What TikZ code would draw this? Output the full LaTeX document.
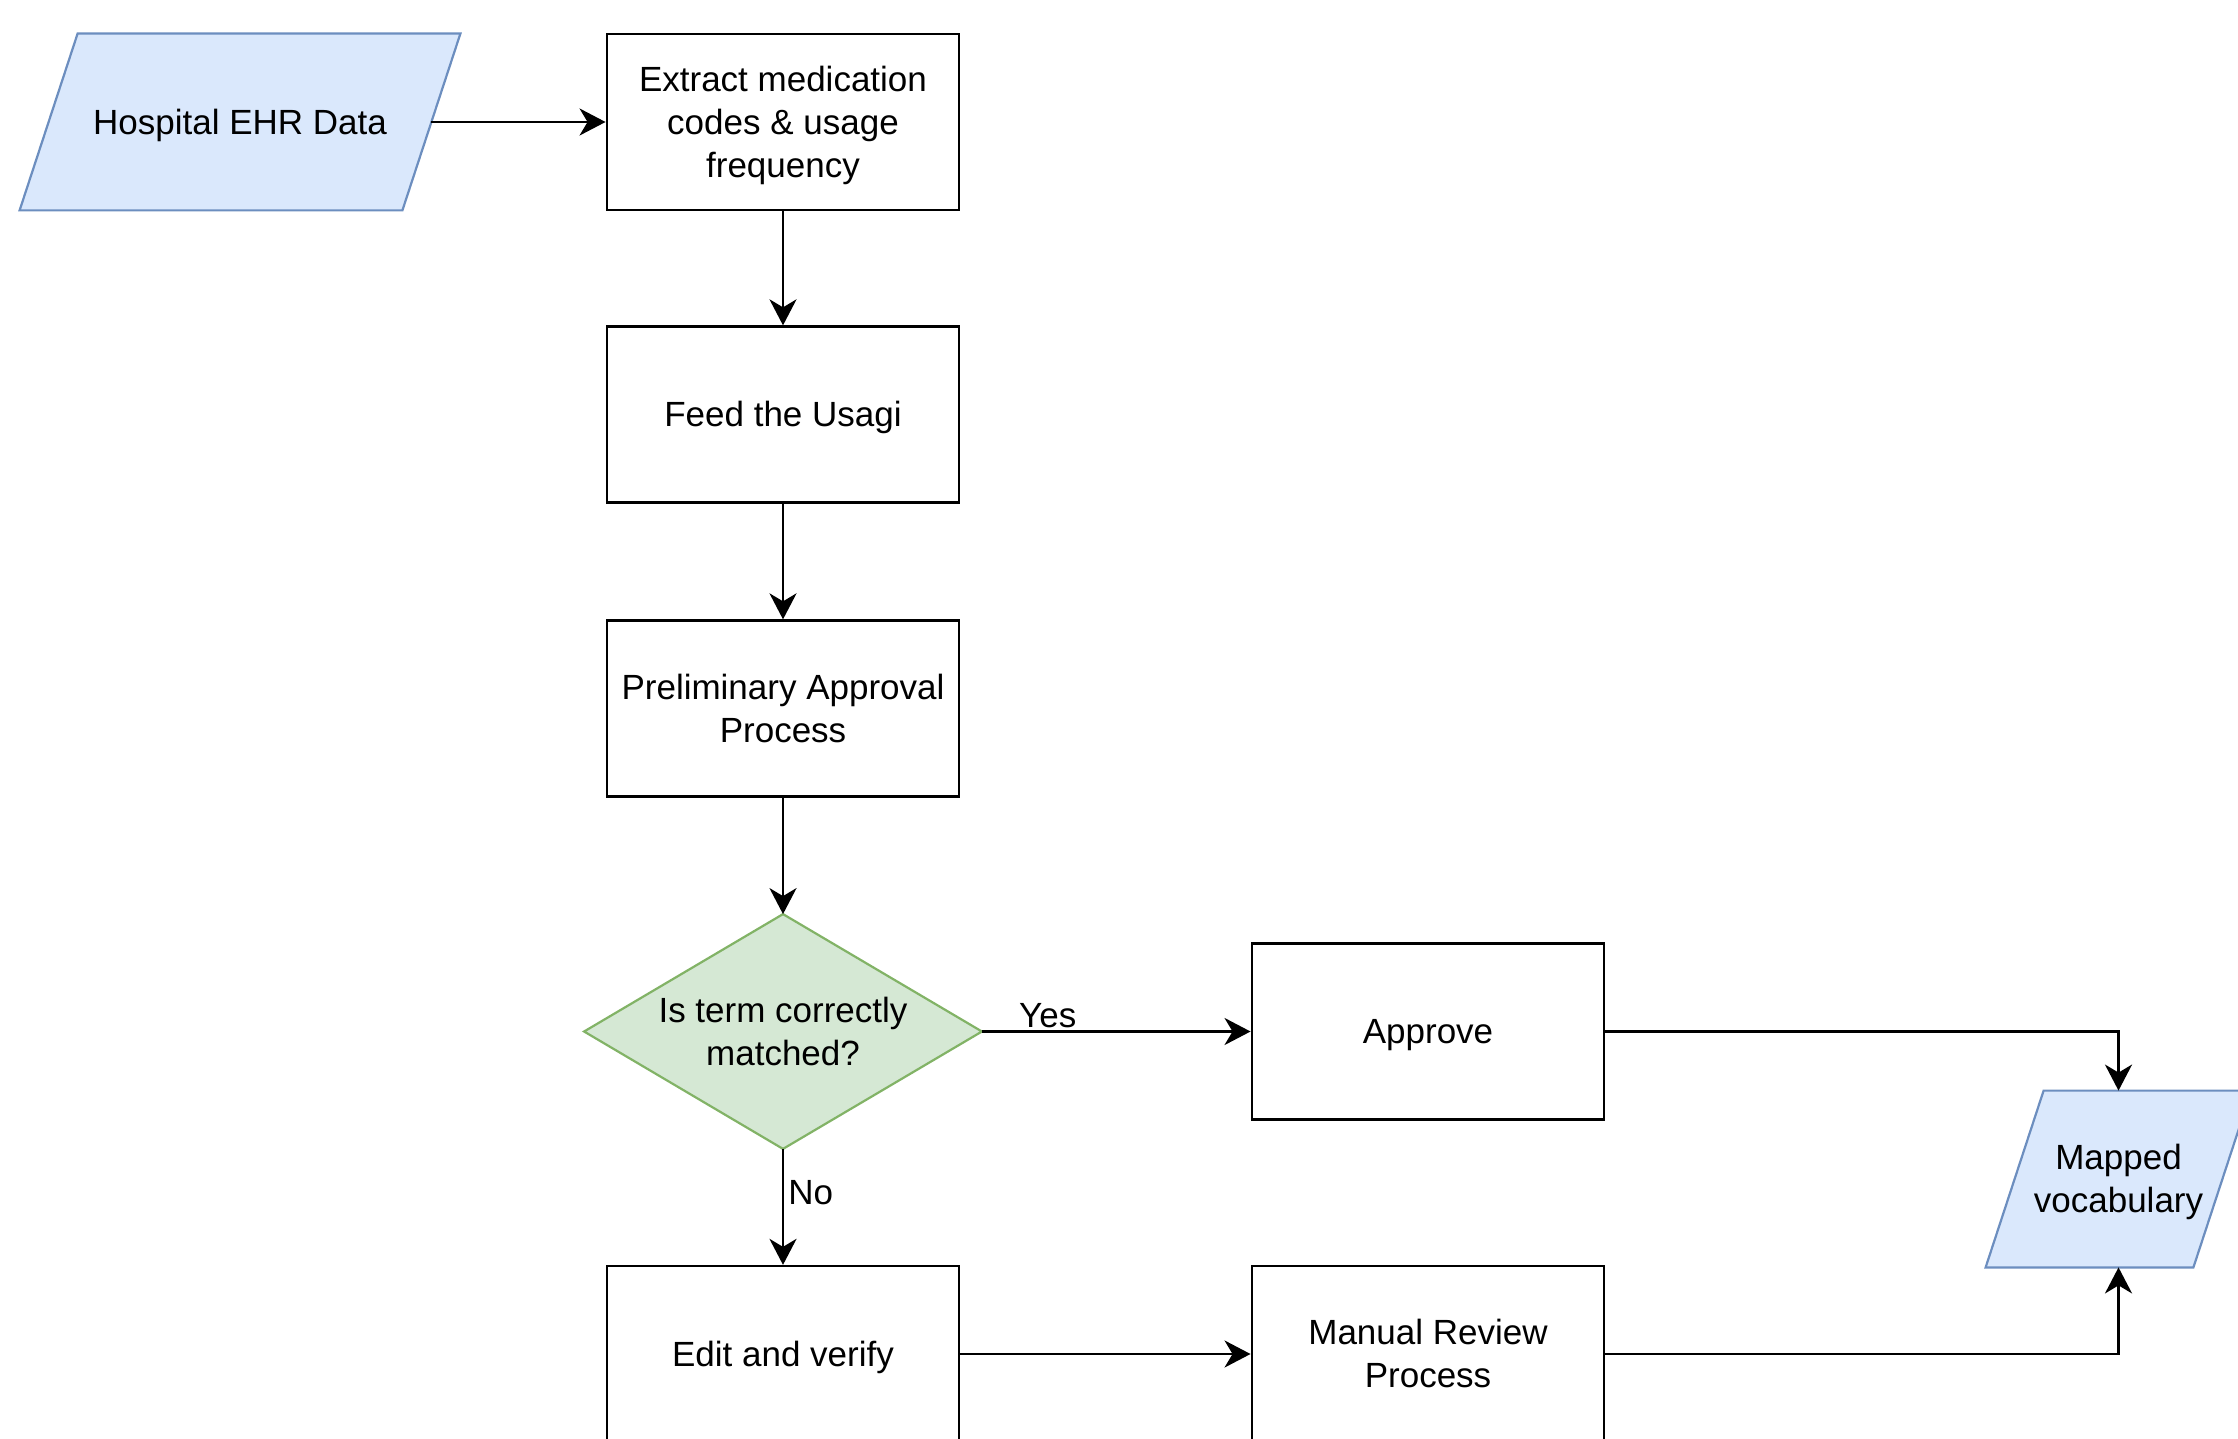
\documentclass[tikz,border=0pt]{standalone}
\usepackage{fontspec}
\setmainfont{Liberation Sans}
\usetikzlibrary{arrows.meta,calc,backgrounds}
\definecolor{ioFill}{HTML}{DAE8FC}
\definecolor{ioDraw}{HTML}{6C8EBF}
\definecolor{decFill}{HTML}{D5E8D4}
\definecolor{decDraw}{HTML}{82B366}
\newcommand\celltext[1]{\raisebox{0pt}[\dimexpr\height+3.6pt\relax][\depth]{\raisebox{-1.6pt}{\begin{tabular}{@{}c@{}}#1\end{tabular}}}}
\begin{document}
\begin{tikzpicture}[x=0.5pt,y=-0.5pt,
  txt/.style={inner sep=0pt,align=center,text=black,font=\fontsize{17.5}{21.5}\selectfont},
  box/.style={txt,draw=black,line width=1.15pt,minimum width=176.3pt,minimum height=88pt},
  plain/.style={txt},
  iostyle/.style={fill=ioFill,draw=ioDraw,line width=1.1pt,line join=miter},
  decstyle/.style={fill=decFill,draw=decDraw,line width=1.1pt},
  flow/.style={-{Stealth[length=13pt,width=13.5pt,inset=4pt]},line width=1.45pt,draw=black},
  lbl/.style={font=\fontsize{17.5}{21.5}\selectfont,text=black}
]
\useasboundingbox (0,0) rectangle (2238,1439);

\node[plain,minimum width=191pt,minimum height=88pt] (ehr) at (240,122) {\celltext{Hospital EHR Data}};
\node[box] (extract) at (783,122) {\celltext{Extract medication\\codes \& usage\\frequency}};
\node[box] (feed) at (783,414.5) {\celltext{Feed the Usagi}};
\node[box] (prelim) at (783,708.5) {\celltext{Preliminary Approval\\Process}};
\node[plain,minimum width=198.5pt,minimum height=117pt] (dec) at (783,1031.5) {\celltext{Is term correctly\\matched?}};
\node[box] (approve) at (1428,1031.5) {\celltext{Approve}};
\node[box] (edit) at (783,1354) {\celltext{Edit and verify}};
\node[box] (manual) at (1428,1354) {\celltext{Manual Review\\Process}};
\node[plain,minimum width=103.5pt,minimum height=88pt] (mapped) at (2118.5,1179) {\celltext{Mapped\\vocabulary}};

\begin{scope}[on background layer]
  \draw[iostyle] ($(ehr.north west)+(29,0)$) -- ($(ehr.north east)+(29,0)$) -- ($(ehr.south east)+(-29,0)$) -- ($(ehr.south west)+(-29,0)$) -- cycle;
  \draw[iostyle] ($(mapped.north west)+(29,0)$) -- ($(mapped.north east)+(29,0)$) -- ($(mapped.south east)+(-29,0)$) -- ($(mapped.south west)+(-29,0)$) -- cycle;
  \draw[decstyle] (dec.north) -- (dec.east) -- (dec.south) -- (dec.west) -- cycle;
\end{scope}

\draw[flow] (ehr.east) -- (extract.west);
\draw[flow] (extract.south) -- (feed.north);
\draw[flow] (feed.south) -- (prelim.north);
\draw[flow] (prelim.south) -- (dec.north);
\draw[flow] (dec.east) -- node[lbl,pos=0.245,anchor=south,inner sep=1pt] {Yes} (approve.west);
\draw[flow] (dec.south) -- node[lbl,pos=0.38,anchor=west,inner sep=2pt] {No} (edit.north);
\draw[flow] (edit.east) -- (manual.west);
\draw[flow] (approve.east) -| (mapped.north);
\draw[flow] (manual.east) -| (mapped.south);
\end{tikzpicture}
\end{document}
